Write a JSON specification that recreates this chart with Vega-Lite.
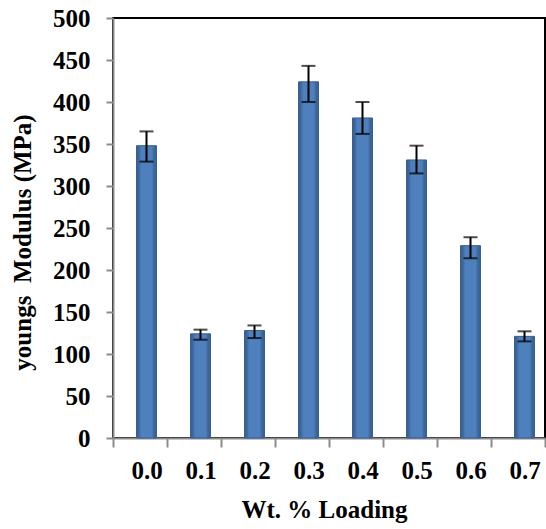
{
  "$schema": "https://vega.github.io/schema/vega-lite/v6.json",
  "width": 432,
  "height": 420,
  "autosize": {"type": "none"},
  "padding": {"left": 113, "top": 18, "right": 1, "bottom": 91},
  "background": "white",
  "config": {
    "font": "Liberation Serif",
    "view": {"stroke": "black", "strokeWidth": 2},
    "axisY": {
      "domainColor": "#8c8c8c", "domainWidth": 2,
      "tickColor": "#8c8c8c", "tickWidth": 2, "tickSize": 7,
      "labelFont": "Liberation Serif", "labelFontWeight": "bold", "labelFontSize": 25, "labelColor": "black", "labelPadding": 16,
      "grid": false,
      "titleFont": "Liberation Serif", "titleFontWeight": "bold", "titleFontSize": 25, "titleColor": "black",
      "titleAngle": 270, "titleBaseline": "alphabetic", "titleX": -83, "titleY": 224,
      "zindex": 1
    },
    "axisX": {
      "domainColor": "#8c8c8c", "domainWidth": 2,
      "tickColor": "#8c8c8c", "tickWidth": 2, "tickSize": 9, "tickBand": "extent",
      "labelFont": "Liberation Serif", "labelFontWeight": "bold", "labelFontSize": 25, "labelColor": "black", "labelPadding": 11,
      "labelAngle": 0, "labelOffset": 6.5,
      "grid": false,
      "titleFont": "Liberation Serif", "titleFontWeight": "bold", "titleFontSize": 25, "titleColor": "black",
      "titleBaseline": "alphabetic", "titleX": 211, "titleY": 79,
      "zindex": 1
    }
  },
  "data": {
    "values": [
      {"load": "0.0", "v": 348, "lo": 329, "hi": 365},
      {"load": "0.1", "v": 124, "lo": 117, "hi": 129},
      {"load": "0.2", "v": 128, "lo": 119, "hi": 134},
      {"load": "0.3", "v": 424, "lo": 400, "hi": 443},
      {"load": "0.4", "v": 381, "lo": 362, "hi": 400},
      {"load": "0.5", "v": 331, "lo": 315, "hi": 348},
      {"load": "0.6", "v": 229, "lo": 214, "hi": 239},
      {"load": "0.7", "v": 121, "lo": 115, "hi": 127}
    ]
  },
  "encoding": {
    "x": {
      "field": "load", "type": "nominal", "sort": null,
      "scale": {"paddingInner": 0, "paddingOuter": 0},
      "title": "Wt. % Loading"
    }
  },
  "layer": [
    {
      "mark": {
        "type": "bar", "width": 20, "xOffset": 6.5,
        "fill": {
          "gradient": "linear", "x1": 0, "y1": 0, "x2": 1, "y2": 0,
          "stops": [
            {"offset": 0, "color": "#365c8b"},
            {"offset": 0.14, "color": "#3f6ba1"},
            {"offset": 0.24, "color": "#4d80bd"},
            {"offset": 0.76, "color": "#4d80bd"},
            {"offset": 0.86, "color": "#3f6ba1"},
            {"offset": 1, "color": "#365c8b"}
          ]
        },
        "stroke": "#3a5f8e", "strokeWidth": 1
      },
      "encoding": {
        "y": {
          "field": "v", "type": "quantitative",
          "scale": {"domain": [0, 500], "nice": false},
          "axis": {"values": [0, 50, 100, 150, 200, 250, 300, 350, 400, 450, 500]},
          "title": "youngs\u00a0 Modulus (MPa)"
        }
      }
    },
    {
      "mark": {"type": "rule", "xOffset": 6.5, "color": "black", "strokeWidth": 2},
      "encoding": {
        "y": {"field": "lo", "type": "quantitative", "title": "youngs\u00a0 Modulus (MPa)"},
        "y2": {"field": "hi"}
      }
    },
    {
      "mark": {"type": "tick", "xOffset": 6.5, "color": "black", "thickness": 2, "size": 14},
      "encoding": {
        "y": {"field": "hi", "type": "quantitative", "title": "youngs\u00a0 Modulus (MPa)"}
      }
    },
    {
      "mark": {"type": "tick", "xOffset": 6.5, "color": "black", "thickness": 2, "size": 14},
      "encoding": {
        "y": {"field": "lo", "type": "quantitative", "title": "youngs\u00a0 Modulus (MPa)"}
      }
    }
  ]
}
